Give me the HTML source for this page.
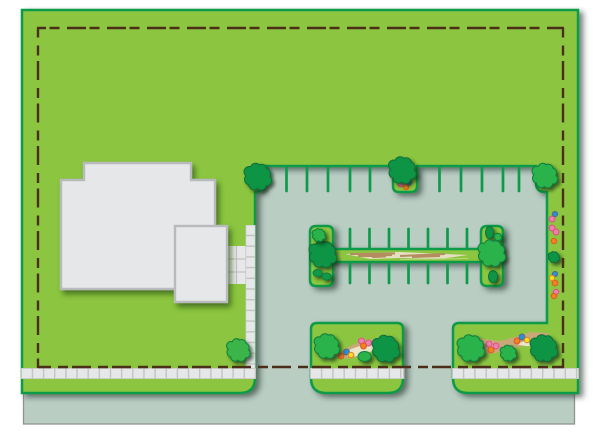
<!DOCTYPE html>
<html><head><meta charset="utf-8"><title>Site plan</title>
<style>html,body{margin:0;padding:0;background:#fff}svg{display:block}</style></head>
<body>
<svg width="600" height="434" viewBox="0 0 600 434" xmlns="http://www.w3.org/2000/svg">
<defs>
<filter id="ls" filterUnits="userSpaceOnUse" x="0" y="0" width="600" height="434"><feDropShadow dx="4" dy="3" stdDeviation="3" flood-color="#1f2e26" flood-opacity=".6"/></filter>
<filter id="bs" filterUnits="userSpaceOnUse" x="0" y="0" width="600" height="434"><feDropShadow dx="3" dy="4" stdDeviation="2.800" flood-color="#2a5208" flood-opacity=".7"/></filter>
<filter id="ts" filterUnits="userSpaceOnUse" x="0" y="0" width="600" height="434"><feDropShadow dx="2.500" dy="2.500" stdDeviation="1.800" flood-color="#122a0c" flood-opacity=".7"/></filter>
<path id="b" vector-effect="non-scaling-stroke" d="M.86,0A.38,.38 0 0 1 .6,.68A.38,.38 0 0 1 -.05,.88A.38,.38 0 0 1 -.68,.6A.38,.38 0 0 1 -.88,-.05A.38,.38 0 0 1 -.54,-.72A.38,.38 0 0 1 .1,-.86A.38,.38 0 0 1 .65,-.58A.38,.38 0 0 1 .86,0Z"/>
</defs>
<rect width="600" height="434" fill="#fff"/>
<rect x="23.500" y="100" width="551" height="324" fill="#b9cdc3" stroke="#8f9392" stroke-width="1.300"/>

<g filter="url(#ls)" fill="#8cc63f" stroke="#0f9a4a" stroke-width="2.500">
<path d="M22,10H578V393H468Q453,393 453,378V329Q453,323 459,323H547V192H545Q536,192 536,183V166H417V186Q417,192 411,192H399Q393,192 393,186V166H263V184Q263,192 255,192V378Q255,393 240,393H22Z"/>
<path d="M317,323H397Q403,323 403,329V378Q403,393 388,393H326Q311,393 311,378V329Q311,323 317,323Z"/>
<path d="M316,226H327Q333,226 333,232V249H481V232Q481,226 487,226H497Q503,226 503,232V280Q503,286 497,286H487Q481,286 481,280V262H333V280Q333,286 327,286H316Q310,286 310,280V232Q310,226 316,226Z"/>
</g>

<g stroke="#0f9a4a" stroke-width="2.700" stroke-linecap="round">
<path d="M286.500,167V191M307,167V191M328,167V191M350,167V191M370,167V191M439.500,167V191M461,167V191M482,167V191M503,167V191M519,167V191"/>
<path d="M350,229V248M369.500,229V248M389,229V248M408.500,229V248M428,229V248M447.500,229V248M467,229V248M350,263V283M369.500,263V283M389,263V283M408.500,263V283M428,263V283M447.500,263V283M467,263V283"/>
</g>

<!-- centre bar bed -->
<path d="M345,254L400,252L468,255L440,259L400,258L370,259Z" fill="#e3dfc0"/>
<path d="M350,254L395,253.500M358,256L392,255M400,256L445,254M412,257L440,256M372,257L386,256.500" stroke="#b58c60" stroke-width="2" fill="none"/>
<path d="M400,259.500L468,258.500" stroke="#b7d67a" stroke-width="1"/>

<!-- walk -->
<rect x="228" y="246" width="18" height="38" fill="#e6e7e8"/>
<path d="M236.500,246V284M228,259H246M228,272H246" stroke="#c2c4bf" stroke-width="1.200"/>
<rect x="245.500" y="225" width="10" height="143" fill="#c2c4bf"/>
<line x1="250.500" y1="225.500" x2="250.500" y2="368" stroke="#e6e7e8" stroke-width="8.600" stroke-dasharray="9.300 1.400"/>

<!-- sidewalk strips -->
<rect x="21" y="368" width="235" height="11" fill="#c2c4bf"/>
<line x1="22" y1="373.500" x2="255.500" y2="373.500" stroke="#e6e7e8" stroke-width="9.400" stroke-dasharray="9.750 1.400"/>
<rect x="310" y="368" width="94.500" height="11" fill="#c2c4bf"/>
<line x1="311" y1="373.500" x2="403" y2="373.500" stroke="#e6e7e8" stroke-width="9.400" stroke-dasharray="9.900 1.400"/>
<rect x="452" y="368" width="127" height="11" fill="#c2c4bf"/>
<line x1="453" y1="373.500" x2="578" y2="373.500" stroke="#e6e7e8" stroke-width="9.400" stroke-dasharray="9.900 1.400"/>

<!-- building -->
<g filter="url(#bs)" fill="#e6e7e9" stroke="#b9babc" stroke-width="2.400">
<path d="M61,180H84V163H191V180H215V289H61Z"/>
<rect x="175" y="226" width="52" height="76"/>
</g>

<!-- beds -->
<path d="M328,350Q340,355 346,348Q360,341 372,339L384,339V352L372,350Q356,361 338,358Z" fill="#c9a878"/>
<path d="M345,352Q358,345 376,343L374,350Q360,358 347,356Z" fill="#e9e6c9"/>
<path d="M476,338L500,341Q520,336 530,332L548,333V346L530,344Q510,350 490,354L476,350Z" fill="#c9a878"/>
<path d="M517,344Q530,338 538,340L536,346Q525,347 517,344Z" fill="#e9e6c9"/>
<path d="M484,342L494,345L490,349Z" fill="#e9e6c9"/>

<!-- flowers -->
<g stroke-width="1.100">
<g fill="#ef7fb0" stroke="#d9577f">
<circle cx="400.700" cy="184" r="2.800"/><circle cx="552" cy="219" r="2.900"/><circle cx="552" cy="228" r="2.900"/><circle cx="556" cy="232" r="2.900"/><circle cx="556" cy="292" r="2.700"/>
<circle cx="361.500" cy="341" r="3"/><circle cx="368.500" cy="343" r="3"/><circle cx="489" cy="344" r="3"/><circle cx="496" cy="346" r="3"/>
</g>
<g fill="#f58220" stroke="#d95f27">
<circle cx="406" cy="187" r="2.700"/><circle cx="554" cy="241" r="2.700"/><circle cx="555" cy="283" r="2.800"/><circle cx="554" cy="296" r="2.700"/>
<circle cx="363.500" cy="346" r="2.900"/><circle cx="341" cy="356" r="2.900"/><circle cx="491" cy="350" r="3"/><circle cx="517" cy="341" r="2.900"/>
</g>
<g fill="#2a8fd6" stroke="#5c6a8a">
<circle cx="409" cy="182.500" r="2.600"/><circle cx="555" cy="214" r="2.600"/><circle cx="555" cy="274" r="2.600"/><circle cx="346.500" cy="352" r="2.900"/><circle cx="522" cy="337" r="2.900"/>
</g>
<g fill="#f7e11e" stroke="#e0872a">
<circle cx="552" cy="278" r="2.600"/><circle cx="351" cy="355" r="2.700"/><circle cx="527" cy="340" r="2.700"/>
</g>
</g>

<!-- dark green trees -->
<g filter="url(#ts)" fill="#0b9444" stroke="#0a6f38" stroke-width="1">
<use href="#b" transform="translate(258 176.500) scale(13.500)"/>
<use href="#b" transform="translate(402.500 170) scale(13.500)"/>
<use href="#b" transform="translate(323 254) scale(13.500)"/>
<use href="#b" transform="translate(386 348.500) scale(13.500)"/>
<use href="#b" transform="translate(544 348) scale(13.500)"/>
<use href="#b" transform="translate(554 257) scale(5.500)"/>
<ellipse cx="489.500" cy="232.500" rx="4" ry="6"/>
<ellipse cx="493" cy="276.500" rx="4.500" ry="6"/>
</g>
<!-- mid green trees -->
<g filter="url(#ts)" fill="#2bb24c" stroke="#0b7f3c" stroke-width="1">
<use href="#b" transform="translate(545 175.500) scale(12.500)"/>
<use href="#b" transform="translate(492 253) scale(13.500)"/>
<use href="#b" transform="translate(319 235) scale(6.500)"/>
<use href="#b" transform="translate(498 237) scale(3.800)"/>
<use href="#b" transform="translate(327 346) scale(12.500)"/>
<use href="#b" transform="translate(471 348) scale(13.500)"/>
<use href="#b" transform="translate(508.500 353) scale(8)"/>
<ellipse cx="364.500" cy="356.500" rx="6.500" ry="5"/>
<ellipse cx="317.500" cy="273" rx="4.500" ry="3.500" fill="#0f9a4a"/>
<ellipse cx="326.500" cy="276.500" rx="4.500" ry="3.500" fill="#0f9a4a"/>
<use href="#b" transform="translate(238.500 350) scale(11.500)" fill="#3ab54a"/>
</g>

<!-- property line -->
<g fill="none" stroke="#4a2e17" stroke-width="2.400">
<line x1="37" y1="28" x2="564" y2="28" stroke-dasharray="19 3.500 10 7.500" stroke-dashoffset="10"/>
<line x1="38" y1="28" x2="38" y2="368" stroke-dasharray="19 8 10 5.500" stroke-dashoffset="9.500"/>
<line x1="563" y1="28" x2="563" y2="368" stroke-dasharray="19 8 10 5.500" stroke-dashoffset="9.500"/>
<line x1="38" y1="367" x2="564" y2="367" stroke-dasharray="19 7 10 4" stroke-dashoffset="6"/>
</g>
</svg>
</body></html>
